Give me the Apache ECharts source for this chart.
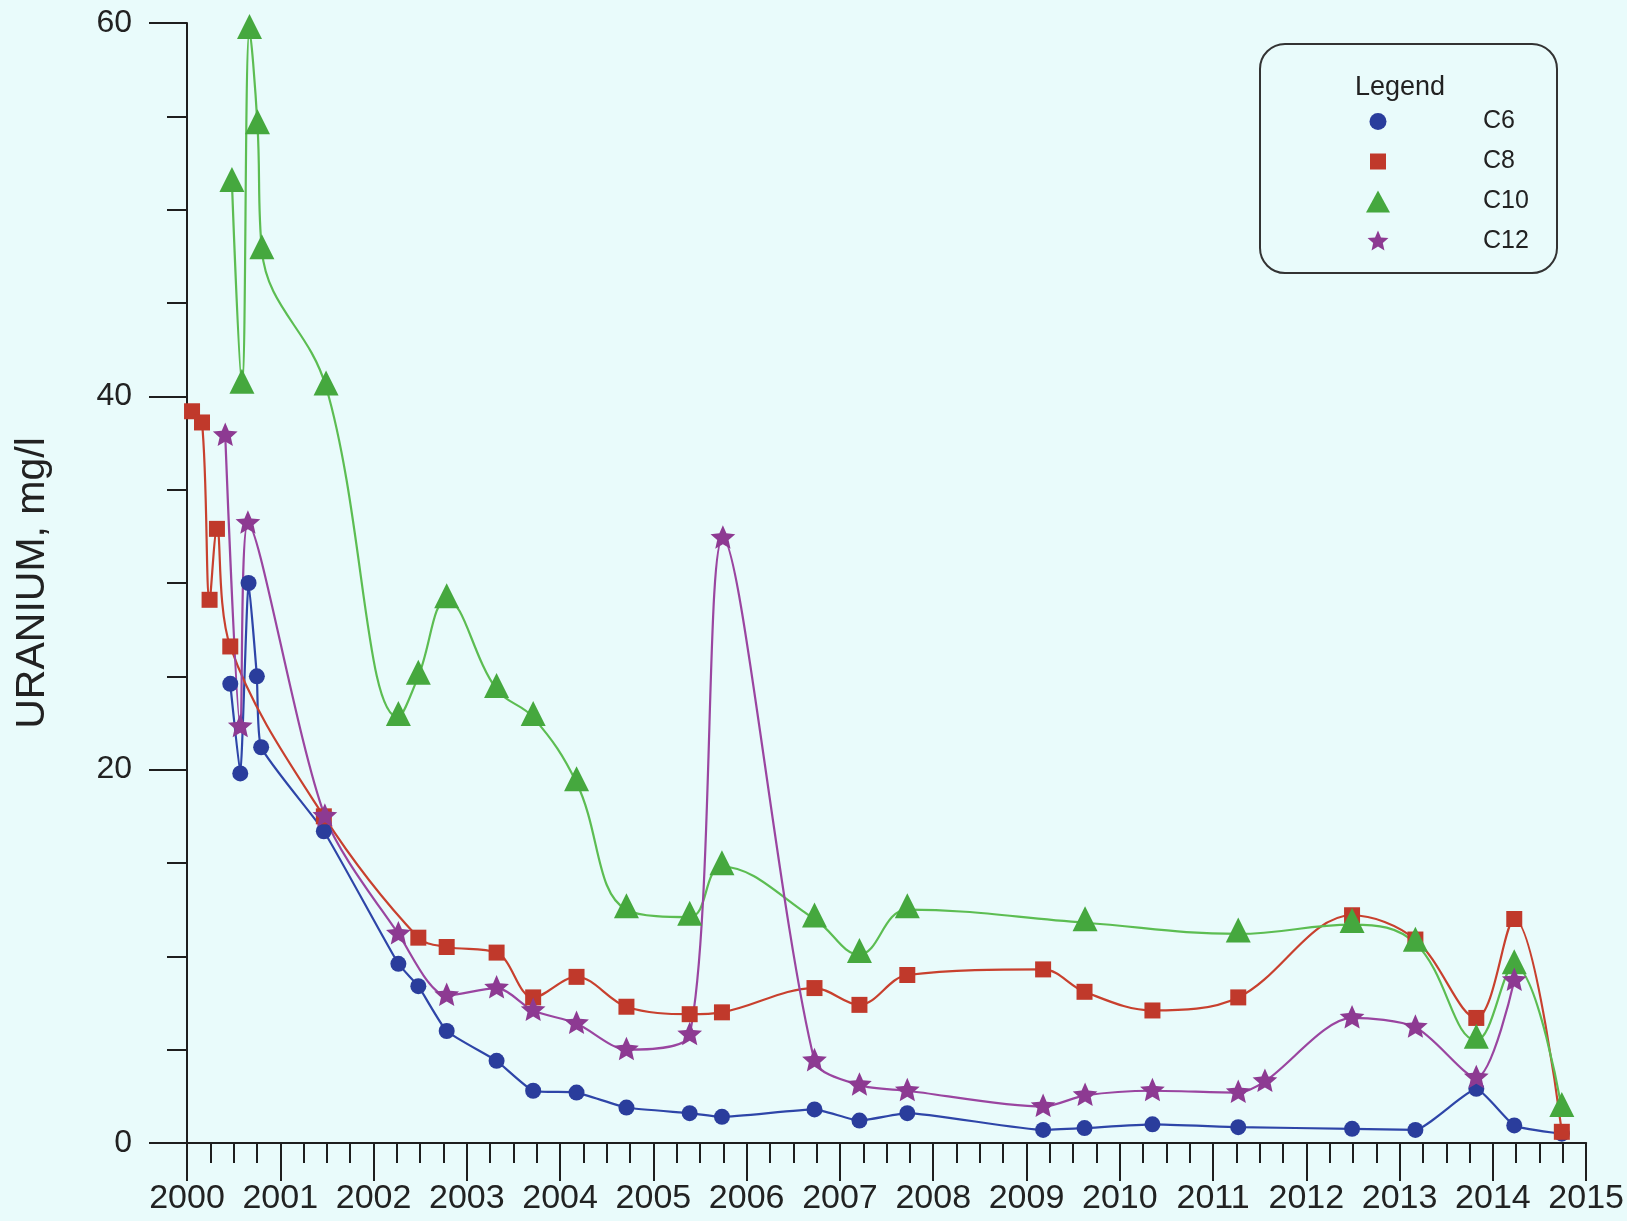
<!DOCTYPE html>
<html>
<head>
<meta charset="utf-8">
<script src="https://cdn.jsdelivr.net/npm/echarts@6/dist/echarts.min.js"></script>
<style>
html,body{margin:0;padding:0;background:#e9fbfb;}
#chart{width:1627px;height:1221px;}
</style>
</head>
<body>
<div id="chart"></div>
<script>
// ---- data (decimal year, uranium mg/l) ----
const c6Dates  = [2000.464, 2000.571, 2000.660, 2000.749, 2000.795, 2001.467, 2002.266, 2002.480, 2002.784, 2003.319, 2003.711, 2004.176, 2004.711, 2005.389, 2005.735, 2006.727, 2007.209, 2007.722, 2009.178, 2009.622, 2010.350, 2011.270, 2012.490, 2013.169, 2013.822, 2014.229, 2014.739];
const c6Values = [24.6, 19.8, 30.0, 25.0, 21.2, 16.7, 9.6, 8.4, 6.0, 4.4, 2.8, 2.7, 1.9, 1.6, 1.4, 1.8, 1.2, 1.6, 0.7, 0.8, 1.0, 0.85, 0.76, 0.7, 2.9, 0.94, 0.5];

const c8Dates  = [2000.054, 2000.161, 2000.242, 2000.321, 2000.464, 2001.467, 2002.480, 2002.784, 2003.319, 2003.711, 2004.176, 2004.711, 2005.389, 2005.735, 2006.727, 2007.209, 2007.722, 2009.178, 2009.622, 2010.350, 2011.270, 2012.490, 2013.169, 2013.822, 2014.229, 2014.739];
const c8Values = [39.2, 38.6, 29.1, 32.9, 26.6, 17.5, 11.0, 10.5, 10.2, 7.8, 8.9, 7.3, 6.9, 7.0, 8.3, 7.4, 9.0, 9.3, 8.1, 7.1, 7.8, 12.2, 10.9, 6.7, 12.0, 0.6];

const c10Dates  = [2000.482, 2000.589, 2000.670, 2000.756, 2000.803, 2001.491, 2002.266, 2002.480, 2002.784, 2003.319, 2003.711, 2004.176, 2004.711, 2005.389, 2005.735, 2006.727, 2007.209, 2007.722, 2009.628, 2011.270, 2012.490, 2013.169, 2013.822, 2014.229, 2014.739];
const c10Values = [51.4, 40.6, 59.6, 54.5, 47.8, 40.5, 22.8, 25.0, 29.1, 24.3, 22.8, 19.3, 12.5, 12.1, 14.8, 12.0, 10.1, 12.5, 11.8, 11.2, 11.7, 10.7, 5.5, 9.5, 1.85];

const c12Dates  = [2000.410, 2000.571, 2000.653, 2001.478, 2002.266, 2002.784, 2003.319, 2003.711, 2004.176, 2004.711, 2005.389, 2005.745, 2006.727, 2007.209, 2007.722, 2009.178, 2009.628, 2010.350, 2011.270, 2011.556, 2012.490, 2013.169, 2013.822, 2014.229];
const c12Values = [37.9, 22.3, 33.2, 17.5, 11.2, 7.9, 8.3, 7.1, 6.4, 5.0, 5.8, 32.4, 4.4, 3.1, 2.8, 1.95, 2.55, 2.8, 2.7, 3.3, 6.7, 6.2, 3.5, 8.7];

const xTickLabels = ['2000','2001','2002','2003','2004','2005','2006','2007','2008','2009','2010','2011','2012','2013','2014','2015'];
const yTickLabels = ['0','20','40','60'];
const seriesNames = ['C6','C8','C10','C12'];
const yAxisTitle = 'URANIUM, mg/l';
const legendTitle = 'Legend';

function zip(a, b) { return a.map((d, i) => [d, b[i]]); }

const AX = '#1e1e1e';
const FONT = 'Liberation Sans, Arial, sans-serif';
const colors = { C6: '#2a3d9c', C8: '#c0392b', C10: '#45a83e', C12: '#8d3a92' };
const lineColors = { C6: '#2e45a8', C8: '#c8402e', C10: '#5cbd52', C12: '#9a45a0' };

// symbol shapes (icons only, no data)
const STAR = 'path://M-10 -10L-10 -10M10 10L10 10M0 -10L2.704 -3.722L9.511 -3.090L4.375 1.422L5.878 8.090L0 4.6L-5.878 8.090L-4.375 1.422L-9.511 -3.090L-2.704 -3.722Z';
const circleIcon = 'path://M0 0L0 0M24 22L24 22M3.5 11A8.5 8.5 0 1 1 20.5 11A8.5 8.5 0 1 1 3.5 11Z';
const squareIcon = 'path://M0 0L0 0M24 22L24 22M4 3H20V19H4Z';
const starIcon = 'path://M-12 -11L-12 -11M12 11L12 11M0 -11L2.974 -4.094L10.462 -3.399L4.813 1.564L6.466 8.899L0 5.06L-6.466 8.899L-4.813 1.564L-10.462 -3.399L-2.974 -4.094Z';

const chart = echarts.init(document.getElementById('chart'), null, { renderer: 'canvas' });

function mkSeries(name, dates, values, symbol, size, smooth, extra) {
  return Object.assign({
    name: name,
    type: 'line',
    data: zip(dates, values),
    symbol: symbol,
    symbolSize: size,
    symbolKeepAspect: true,
    smooth: smooth,
    showSymbol: true,
    showAllSymbol: true,
    lineStyle: { color: lineColors[name], width: 2.2 },
    itemStyle: { color: colors[name], borderWidth: 0 },
    emphasis: { disabled: true }
  }, extra || {});
}

const legendText = { fontSize: 25, fontFamily: FONT, color: '#222' };

const option = {
  backgroundColor: '#e9fbfb',
  animation: false,
  grid: { left: 187, right: 39, top: 23, bottom: 78, containLabel: false },
  xAxis: {
    type: 'value', min: 2000, max: 2015, interval: 1,
    axisLine: { show: true, lineStyle: { color: AX, width: 2 } },
    axisTick: { show: true, length: 38, lineStyle: { color: AX, width: 2 } },
    minorTick: { show: true, splitNumber: 4, length: 20, lineStyle: { color: AX, width: 2 } },
    splitLine: { show: false },
    axisLabel: {
      fontSize: 34, fontFamily: FONT, color: '#222', margin: 39,
      formatter: v => xTickLabels[Math.round(v - 2000)]
    }
  },
  yAxis: {
    type: 'value', min: 0, max: 60, interval: 20,
    name: yAxisTitle, nameLocation: 'middle', nameRotate: 90, nameGap: 134,
    nameTextStyle: { fontSize: 41, fontFamily: FONT, color: '#222' },
    axisLine: { show: true, lineStyle: { color: AX, width: 2 } },
    axisTick: { show: true, length: 38, lineStyle: { color: AX, width: 2 } },
    minorTick: { show: true, splitNumber: 4, length: 20, lineStyle: { color: AX, width: 2 } },
    splitLine: { show: false },
    axisLabel: {
      fontSize: 32, fontFamily: FONT, color: '#222', margin: 55,
      formatter: v => yTickLabels[Math.round(v / 20)]
    }
  },
  legend: {
    orient: 'vertical', left: 1361, top: 104,
    itemWidth: 24, itemHeight: 22, itemGap: 15,
    selectedMode: false,
    textStyle: Object.assign({}, legendText, {
      rich: { t: Object.assign({}, legendText, { padding: [0, 0, 0, 88] }) }
    }),
    formatter: name => '{t|' + name + '}',
    data: [
      { name: seriesNames[0], icon: circleIcon },
      { name: seriesNames[1], icon: squareIcon },
      { name: seriesNames[2], icon: 'triangle' },
      { name: seriesNames[3], icon: starIcon }
    ]
  },
  graphic: [
    { type: 'rect', shape: { x: 1260, y: 44, width: 297, height: 229, r: 25 },
      style: { fill: 'none', stroke: '#333', lineWidth: 2 }, z: 100 },
    { type: 'text', x: 1400, y: 88,
      style: { text: legendTitle, fontSize: 27, fontFamily: FONT, fill: '#222', align: 'center', verticalAlign: 'middle' }, z: 100 }
  ],
  series: [
    mkSeries('C6', c6Dates, c6Values, 'circle', 16, 0.15),
    mkSeries('C8', c8Dates, c8Values, 'rect', 16, 0.35),
    mkSeries('C10', c10Dates, c10Values, 'triangle', 25, 0.4, { symbolOffset: [0, -4] }),
    mkSeries('C12', c12Dates, c12Values, STAR, 26, 0.28)
  ]
};
chart.setOption(option);
</script>
</body>
</html>
